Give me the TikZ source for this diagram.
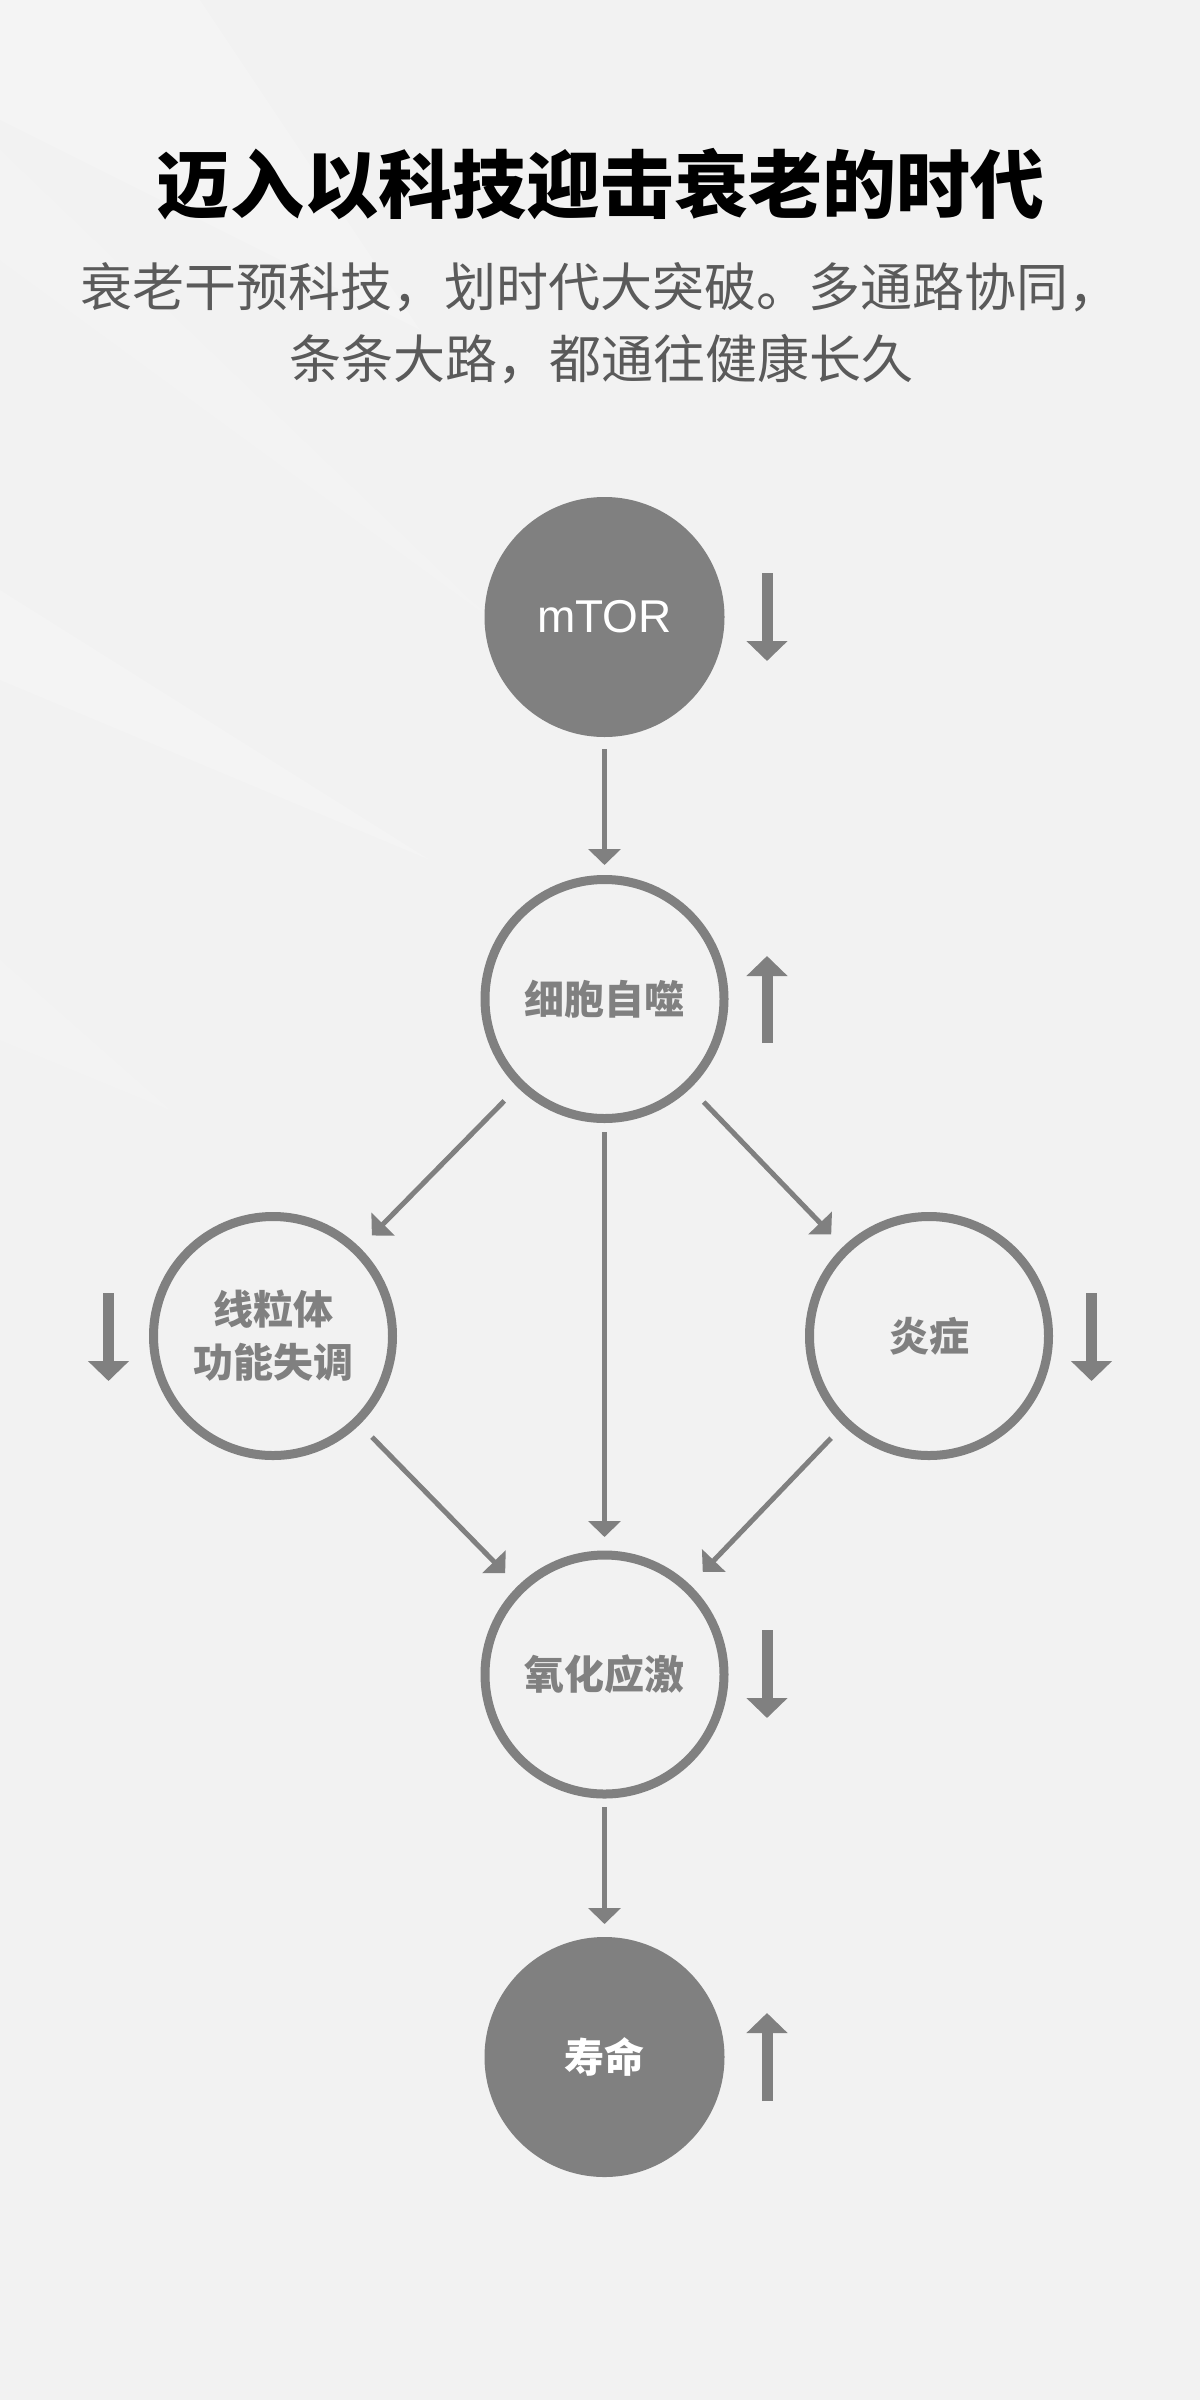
\documentclass[tikz,border=0pt]{standalone}
\usepackage{fontspec}
\usetikzlibrary{arrows.meta}
\setmainfont{Liberation Sans}
\newfontfamily\cjk{Noto Sans CJK SC}
\definecolor{bg}{HTML}{F2F2F2}
\definecolor{mid}{HTML}{808080}
\definecolor{subc}{HTML}{5A5A5A}
\begin{document}
\begin{tikzpicture}[x=1pt,y=-1pt,
  filled/.style={circle, fill=mid, draw=none, minimum size=240pt, inner sep=0pt, outer sep=0pt, text=white},
  ring/.style={circle, draw=mid, line width=9pt, fill=none, minimum size=239pt, inner sep=0pt, outer sep=0pt, text=mid, align=center},
  conn/.style={draw=mid, line width=5pt, -{Triangle[width=32pt,length=16pt]}},
  ind/.style={draw=mid, line width=11pt, -{Triangle[width=40pt,length=20pt]}},
  cjktext/.style={font=\cjk\bfseries\fontsize{40}{53}\selectfont},
  streak/.style={fill=white, opacity=0.18}
]
\fill[bg] (0,0) rectangle (1200,2400);
\useasboundingbox (0,0) rectangle (1200,2400);
% faint background streaks
\fill[streak] (0,0) -- (200,0) -- (420,330) -- (0,120) -- cycle;
\fill[streak, opacity=0.14] (0,150) -- (0,260) -- (520,640) -- (470,600) -- cycle;
\fill[streak, opacity=0.16] (0,590) -- (0,680) -- (430,860) -- cycle;
\fill[streak, opacity=0.12] (0,960) -- (0,1040) -- (170,1110) -- cycle;
% title and subtitle
\node[anchor=base] (title) at (600,213) {\cjk\bfseries\fontsize{74}{84}\selectfont 迈入以科技迎击衰老的时代};
\node[anchor=base, text=subc] (sub1) at (600,306) {\cjk\fontsize{52}{60}\selectfont 衰老干预科技，划时代大突破。多通路协同，};
\node[anchor=base, text=subc] (sub2) at (601,378) {\cjk\fontsize{52}{60}\selectfont 条条大路，都通往健康长久};
% nodes
\node[filled, font=\fontsize{46}{50}\selectfont] (mtor) at (604.5,617) {mTOR};
\node[ring, cjktext] (auto) at (604.5,999) {细胞自噬};
\node[ring, cjktext] (mito) at (273,1336) {线粒体\\功能失调};
\node[ring, cjktext] (infl) at (929,1336) {炎症};
\node[ring, cjktext] (oxid) at (604.5,1674.5) {氧化应激};
\node[filled, cjktext] (life) at (604.5,2057) {寿命};
% connectors
\draw[conn, shorten <=12pt, shorten >=14.5pt] (mtor) -- (auto);
\draw[conn, shorten <=23.5pt, shorten >=21.5pt] (auto) -- (mito);
\draw[conn, shorten <=23.5pt, shorten >=21.5pt] (auto) -- (infl);
\draw[conn, shorten <=13.5pt, shorten >=18pt] (auto) -- (oxid);
\draw[conn, shorten <=22pt, shorten >=22.5pt] (mito) -- (oxid);
\draw[conn, shorten <=22pt, shorten >=22.5pt] (infl) -- (oxid);
\draw[conn, shorten <=13pt, shorten >=13pt] (oxid) -- (life);
% up / down indicators
\draw[ind] (767,573) -- (767,661);
\draw[ind] (767,1043) -- (767,956);
\draw[ind] (108.5,1293) -- (108.5,1381);
\draw[ind] (1091.5,1293) -- (1091.5,1381);
\draw[ind] (767,1630) -- (767,1718);
\draw[ind] (767,2101) -- (767,2013);
\end{tikzpicture}
\end{document}
